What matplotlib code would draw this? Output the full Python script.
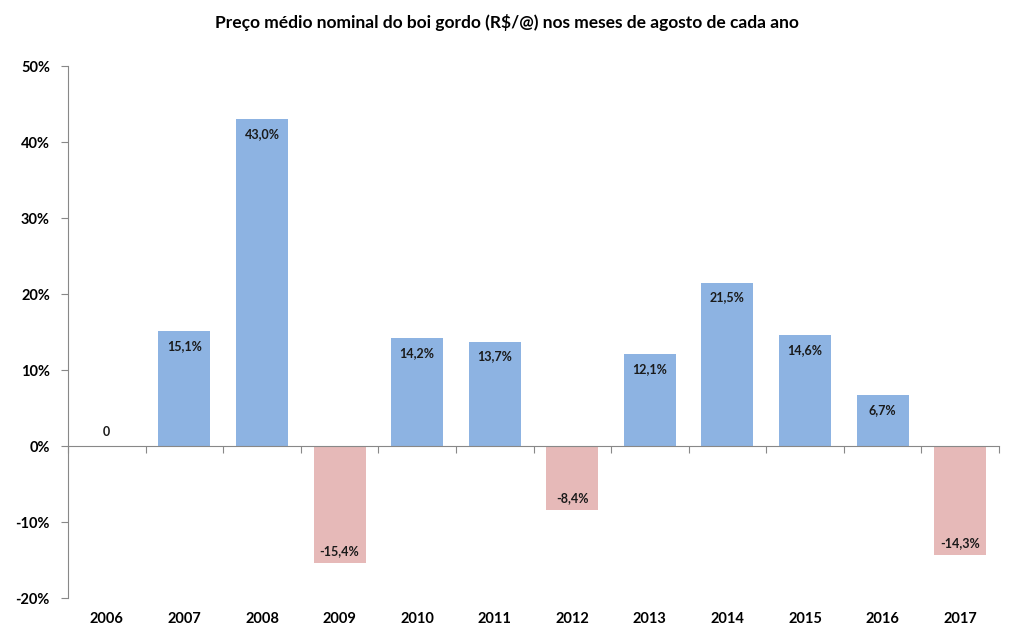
import matplotlib
matplotlib.use('Agg')
import matplotlib.pyplot as plt
import numpy as np

anos = ['2006', '2007', '2008', '2009', '2010', '2011', '2012',
        '2013', '2014', '2015', '2016', '2017']
variacao = [0.0, 15.1, 43.0, -15.4, 14.2, 13.7, -8.4,
            12.1, 21.5, 14.6, 6.7, -14.3]
rotulos = ['0', '15,1%', '43,0%', '-15,4%', '14,2%', '13,7%', '-8,4%',
           '12,1%', '21,5%', '14,6%', '6,7%', '-14,3%']

plt.rcParams['font.family'] = ['Lato', 'DejaVu Sans']

azul = '#8DB3E2'
rosa = '#E6B9B8'
cinza = '#888888'

fig = plt.figure(figsize=(10.13, 6.32), dpi=100)
ax = fig.add_axes([68/1013, 34/632, 931/1013, 532/632])

x = np.arange(len(anos))
cores = [azul if v >= 0 else rosa for v in variacao]
ax.bar(x, variacao, width=0.67, color=cores, zorder=2)

for xi, v, r in zip(x, variacao, rotulos):
    if v > 0:
        dy = -10.5
    elif v < 0:
        dy = 8.5
    else:
        dy = 10
    ax.annotate(r, (xi, v), xytext=(0, dy), textcoords='offset points',
                ha='center', va='center', fontsize=9, fontweight='bold', color='#1a1a1a')

ax.set_xlim(-0.5, len(anos) - 0.5)
ax.set_ylim(-20, 50)
ax.set_yticks(np.arange(-20, 51, 10))
ax.set_yticklabels(['%d%%' % t for t in np.arange(-20, 51, 10)],
                   fontsize=10.5, fontweight='bold')
ax.tick_params(axis='y', direction='out', length=5, color=cinza, pad=8)

# eixo x na linha do zero, com marcas entre categorias
ax.spines['bottom'].set_position(('data', 0))
ax.spines['bottom'].set_color(cinza)
ax.spines['left'].set_color(cinza)
ax.spines['top'].set_visible(False)
ax.spines['right'].set_visible(False)
ax.set_xticks(np.arange(-0.5, len(anos), 1))
ax.set_xticklabels([])
ax.tick_params(axis='x', direction='out', length=5, color=cinza)

# rótulos dos anos embaixo do gráfico
sec = ax.secondary_xaxis('bottom')
sec.set_xticks(x)
sec.set_xticklabels(anos, fontsize=10.5, fontweight='bold')
sec.tick_params(length=0, pad=10)
sec.spines['bottom'].set_visible(False)

fig.text(0.5, 0.965, 'Preço médio nominal do boi gordo (R$/@) nos meses de agosto de cada ano',
         ha='center', va='center', fontsize=12.5, fontweight='bold')

plt.savefig('out.png', dpi=100)
